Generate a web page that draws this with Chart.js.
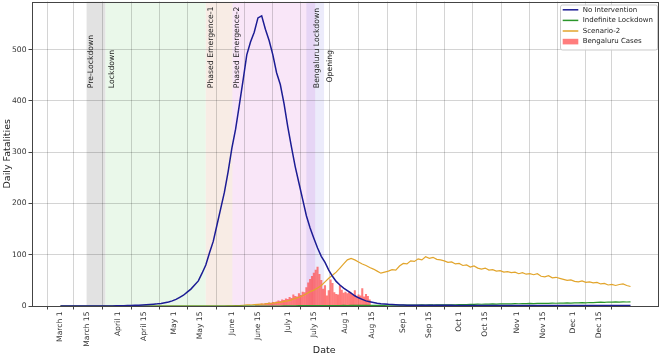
<!DOCTYPE html>
<html lang="en">
<head>
<meta charset="UTF-8">
<title>Daily Fatalities</title>
<script src="https://cdn.jsdelivr.net/npm/chart.js"></script>
<style>
  html, body { margin: 0; padding: 0; background: #fff; }
  #wrap { width: 661px; height: 357px; }
</style>
</head>
<body>
<div id="wrap"><canvas id="fatalityChart" width="661" height="357"></canvas></div>
<script>
// day 0 = March 1, series sampled every 2 days up to day 306
const dayStep = 2;
const noIntervention = [
  0, 0, 0, 0, 0, 0, 0, 0, 0, 0, 0, 0, 0, 0, 0,
  0.3, 0.5, 0.6, 0.8, 1, 1.3, 1.6, 2, 2.5, 3,
  3.6, 4.2, 5, 6.5, 8, 10, 13, 17, 21, 27,
  33, 41, 49, 64, 80, 104, 126, 158, 190, 222,
  262, 308, 345, 392, 440, 490, 515, 534, 562, 566,
  540, 518, 490, 455, 432, 395, 350, 310, 272, 240,
  208, 176, 152, 132, 113, 97, 85, 70, 58, 48,
  41, 35, 30, 25, 20, 16, 13, 10, 8.5, 7,
  5.5, 4.5, 4, 3.3, 2.8, 2.4, 2,
  1.8, 1.7, 1.7, 1.6, 1.6, 1.5, 1.5, 1.5, 1.4, 1.4,
  1.4, 1.3, 1.3, 1.3, 1.2, 1.2, 1.2, 1.2, 1.1, 1.1,
  1.1, 1.1, 1.1, 1, 1, 1, 1, 1, 1, 1,
  1, 1, 1, 1, 1, 1, 1, 1, 1, 1,
  1, 1, 1, 1, 1, 1, 1, 1, 1, 1,
  1, 1, 1, 1, 1, 1, 1, 1, 1, 1, 1, 1
];
const indefiniteLockdown = [
  0, 0, 0, 0, 0, 0, 0, 0, 0, 0, 0, 0, 0, 0, 0, 0, 0, 0, 0, 0,
  0, 0, 0, 0, 0, 0, 0, 0, 0, 0, 0, 0, 0, 0, 0, 0, 0, 0, 0, 0,
  0, 0, 0, 0, 0, 0, 0, 0, 0, 0, 0, 0, 0, 0, 0, 0, 0, 0, 0, 0,
  0.3, 0.4, 0.5, 0.5, 0.6, 0.6, 0.7, 0.7, 0.8, 0.8, 0.9, 0.9, 1, 1, 1,
  1, 1.1, 1, 1.2, 1.1, 1.2, 1.3, 1.2, 1.4, 1.3, 1.4, 1.5, 1.4, 1.6, 1.5,
  1.6, 1.7, 1.6, 1.8, 1.7, 1.9, 1.8, 2, 1.9, 2.1, 2, 2.2, 2.1, 2.3, 2.2,
  2.4, 2.3, 2.6, 2.5, 2.8, 3.4, 3.2, 3.6, 3.4, 3.8, 3.6, 4, 3.8, 4.2, 4,
  4.4, 4.2, 4.6, 4.4, 4.8, 4.6, 5, 4.8, 5.2, 5, 5.4, 5.2, 5.6, 5.4, 5.8,
  5.6, 6, 5.8, 6.2, 6, 6.5, 6.2, 6.8, 6.5, 7, 7.5, 7, 7.8, 7.4, 8,
  7.6, 8.2, 7.8, 8
];
const scenario2 = [
  0, 0, 0, 0, 0, 0, 0, 0, 0, 0, 0, 0, 0, 0, 0, 0, 0, 0, 0, 0,
  0, 0, 0, 0, 0, 0, 0, 0, 0, 0, 0, 0, 0, 0, 0, 0, 0, 0, 0, 0,
  0, 0, 0, 0, 0,
  0.5, 0.5, 1, 1, 1.5, 2, 2, 2.5, 3, 3.5,
  4, 5, 5.5, 6.5, 7, 9, 10, 12, 15, 17,
  20, 24, 28, 31, 35, 40, 47, 54, 60, 66,
  74, 82, 90, 93, 90, 86, 82, 79, 75, 72,
  68, 64, 66, 68, 71, 70, 78, 83, 82, 88,
  87, 92, 90, 96, 93, 95, 91, 90, 88, 85,
  86, 82, 83, 79, 80, 76, 78, 74, 72, 74,
  70, 71, 68, 69, 66, 67, 65, 66, 63, 65,
  62, 63, 61, 63, 58, 57, 59, 55, 56, 54,
  52, 50, 51, 48, 47, 49, 46, 47, 45, 46,
  43, 44, 41, 42, 40, 42, 43, 40, 38
];
// Bengaluru daily cases, one bar per day from day 105
const bengaluruStart = 105;
const bengaluruCases = [
  2, 3, 2, 4, 3, 5, 4, 6, 5, 7,
  6, 8, 10, 9, 12, 11, 14, 13, 17, 15,
  22, 19, 18, 24, 21, 27, 26, 36, 45, 52,
  58, 64, 70, 76, 62, 50, 33, 40, 20, 30,
  51, 44, 26, 23, 22, 40, 31, 25, 27, 24,
  28, 25, 22, 30, 18, 22, 20, 34, 18, 23,
  19, 12
];
const tickDays = [0, 14, 31, 45, 61, 75, 92, 106, 122, 136, 153, 167, 184, 198, 214, 228, 245, 259, 275, 289];
const tickLabels = ['March 1', 'March 15', 'April 1', 'April 15', 'May 1', 'May 15', 'June 1', 'June 15',
  'July 1', 'July 15', 'Aug 1', 'Aug 15', 'Sep 1', 'Sep 15', 'Oct 1', 'Oct 15', 'Nov 1', 'Nov 15', 'Dec 1', 'Dec 15'];
const yTicks = [0, 100, 200, 300, 400, 500];

const phaseStart = [14, 24.2, 78, 92.3, 132];
const phaseEnd = [24.2, 78, 92.3, 136.7, 141.5];
const phaseColors = ['#e2e2e2', '#eaf8ea', '#f8ece5', 'rgba(225,130,220,0.2)', 'rgba(120,110,230,0.14)'];
const labelNames = ['Pre-Lockdown', 'Lockdown', 'Phased Emergence-1', 'Phased Emergence-2', 'Bengaluru Lockdown', 'Opening'];
const labelDays = [16.6, 27.7, 80.6, 94.9, 137.6, 144.8];
const labelLevels = [425, 425, 425, 425, 425, 436];

const days = noIntervention.map((v, i) => i * dayStep);
const FONT = 'DejaVu Sans';

const decor = {
  id: 'decor',
  beforeDraw(chart) {
    const { ctx, chartArea: a, scales: { x } } = chart;
    ctx.save();
    ctx.fillStyle = '#fff';
    ctx.fillRect(0, 0, chart.width, chart.height);
    ctx.beginPath();
    ctx.rect(a.left, a.top, a.right - a.left, a.bottom - a.top);
    ctx.clip();
    phaseStart.forEach((s, i) => {
      const x0 = x.getPixelForValue(s), x1 = x.getPixelForValue(phaseEnd[i]);
      ctx.fillStyle = phaseColors[i];
      ctx.fillRect(x0, a.top, x1 - x0, a.bottom - a.top);
    });
    ctx.restore();
  },
  afterDraw(chart) {
    const { ctx, chartArea: a, scales: { x, y } } = chart;
    ctx.save();
    // box round the axes
    const l = Math.round(a.left) + 0.5, t = Math.round(a.top) + 0.5;
    const r = Math.round(a.right) - 0.5, b = Math.round(a.bottom) + 0.5;
    ctx.strokeStyle = '#444';
    ctx.lineWidth = 1;
    ctx.strokeRect(l, t, r - l, b - t);

    // phase labels
    ctx.fillStyle = '#222';
    ctx.font = '7.7px "' + FONT + '"';
    ctx.textAlign = 'left';
    ctx.textBaseline = 'middle';
    labelNames.forEach((txt, i) => {
      ctx.save();
      ctx.translate(x.getPixelForValue(labelDays[i]), y.getPixelForValue(labelLevels[i]));
      ctx.rotate(-Math.PI / 2);
      ctx.fillText(txt, 0, 0);
      ctx.restore();
    });

    // axis titles
    ctx.font = '9.5px "' + FONT + '"';
    ctx.textAlign = 'center';
    ctx.fillText('Date', a.left + (a.right - a.left) * 0.466, chart.height - 6);
    ctx.save();
    ctx.translate(8, (a.top + a.bottom) / 2);
    ctx.rotate(-Math.PI / 2);
    ctx.fillText('Daily Fatalities', 0, 0);
    ctx.restore();

    // legend
    const bx = a.right - 99, by = a.top + 3, bw = 97, bh = 45;
    ctx.fillStyle = 'rgba(255,255,255,0.85)';
    ctx.strokeStyle = '#cccccc';
    ctx.beginPath();
    ctx.roundRect(bx + 0.5, by + 0.5, bw, bh, 2);
    ctx.fill();
    ctx.stroke();
    ctx.font = '7px "' + FONT + '"';
    ctx.textAlign = 'left';
    ctx.textBaseline = 'middle';
    chart.data.datasets.forEach((ds, i) => {
      const ry = by + 5.3 + i * 10.6;
      if (ds.type === 'bar') {
        ctx.fillStyle = ds.backgroundColor;
        ctx.fillRect(bx + 2.7, ry - 2.8, 15.6, 5.6);
      } else {
        ctx.strokeStyle = ds.borderColor;
        ctx.lineWidth = 1.5;
        ctx.beginPath();
        ctx.moveTo(bx + 2.7, ry);
        ctx.lineTo(bx + 18.3, ry);
        ctx.stroke();
      }
      ctx.fillStyle = '#222';
      ctx.fillText(ds.label, bx + 22.7, ry);
    });
    ctx.restore();
  }
};

const ctx = document.getElementById('fatalityChart').getContext('2d');
new Chart(ctx, {
  type: 'line',
  data: {
    datasets: [
      {
        label: 'No Intervention',
        data: days.map((d, i) => ({ x: d, y: noIntervention[i] })),
        borderColor: '#1c1c94',
        borderWidth: 1.5,
        pointRadius: 0,
        tension: 0,
        order: 1
      },
      {
        label: 'Indefinite Lockdown',
        data: days.map((d, i) => ({ x: d, y: indefiniteLockdown[i] })),
        borderColor: '#2a962a',
        borderWidth: 1.2,
        pointRadius: 0,
        tension: 0,
        order: 2
      },
      {
        label: 'Scenario-2',
        data: days.map((d, i) => ({ x: d, y: scenario2[i] })),
        borderColor: '#e2a52c',
        borderWidth: 1.2,
        pointRadius: 0,
        tension: 0,
        order: 3
      },
      {
        type: 'bar',
        label: 'Bengaluru Cases',
        data: bengaluruCases.map((v, i) => ({ x: bengaluruStart + i, y: v })),
        backgroundColor: 'rgba(255,70,70,0.7)',
        borderWidth: 0,
        barThickness: 1.4,
        order: 4
      }
    ]
  },
  options: {
    responsive: false,
    animation: false,
    layout: { padding: { left: 0, right: 2, top: 1.5, bottom: 0 } },
    plugins: { legend: { display: false }, tooltip: { enabled: false } },
    scales: {
      x: {
        type: 'linear',
        min: -15.3,
        max: 321.3,
        offset: false,
        afterBuildTicks: (scale) => { scale.ticks = tickDays.map(v => ({ value: v })); },
        afterFit: (scale) => { scale.height = 51; scale.paddingLeft = 0; scale.paddingRight = 0; },
        ticks: {
          autoSkip: false,
          minRotation: 90,
          maxRotation: 90,
          padding: 2,
          color: '#333',
          font: { family: FONT, size: 7.6 },
          callback: (v) => tickLabels[tickDays.indexOf(v)]
        },
        grid: { color: 'rgba(0,0,0,0.17)', tickColor: '#444', tickLength: 3.5 },
        border: { display: false }
      },
      y: {
        min: 0,
        max: 594,
        afterBuildTicks: (scale) => { scale.ticks = yTicks.map(v => ({ value: v })); },
        afterFit: (scale) => { scale.width = 32; scale.paddingTop = 0; scale.paddingBottom = 0; },
        ticks: {
          padding: 2,
          color: '#333',
          font: { family: FONT, size: 7.6 }
        },
        grid: { color: 'rgba(0,0,0,0.17)', tickColor: '#444', tickLength: 3.5 },
        border: { display: false }
      }
    }
  },
  plugins: [decor]
});
</script>
</body>
</html>
